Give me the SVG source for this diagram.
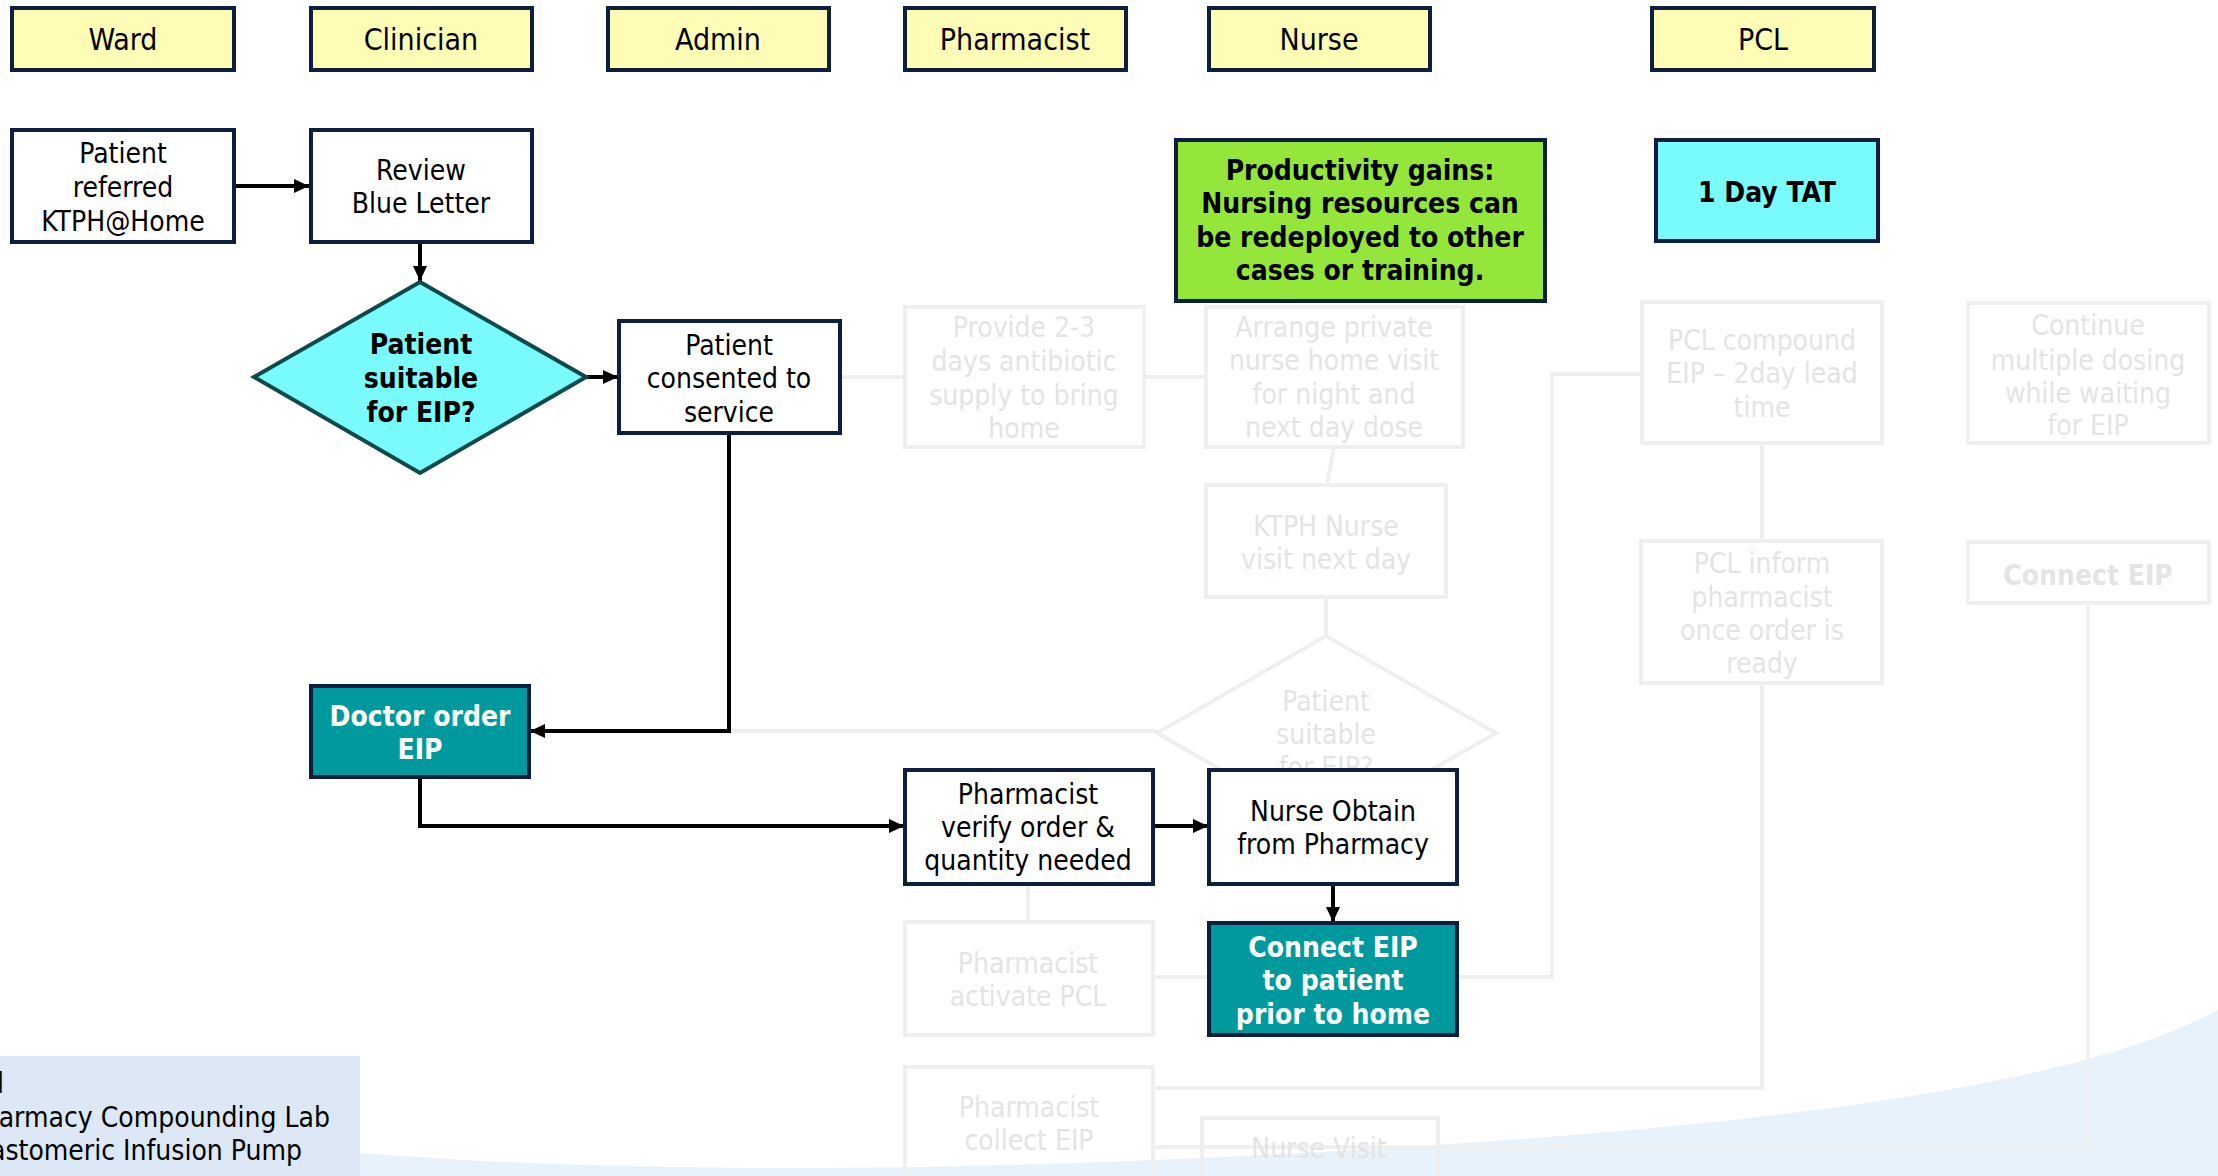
<svg xmlns="http://www.w3.org/2000/svg" width="2218" height="1176" viewBox="0 0 2218 1176">
  <defs>
    <style>
      text { font-family: "DejaVu Sans Condensed", "DejaVu Sans", "Liberation Sans", sans-serif; font-size: 28px; text-anchor: middle; fill: #000; }
      .hd { font-size: 30px; }
      .b { font-weight: bold; }
      .wt { fill: #ffffff; }
      .gt { fill: #e4e4e4; }
      .lg { text-anchor: end; }
      .lane { fill: #fffdb5; stroke: #0e1f3d; stroke-width: 4; }
      .box { fill: #ffffff; stroke: #0e1f3d; stroke-width: 4; }
      .teal { fill: #009a9e; stroke: #0e1f3d; stroke-width: 4; }
      .cyan { fill: #79fafc; stroke: #0e1f3d; stroke-width: 4; }
      .green { fill: #94e63a; stroke: #0e1f3d; stroke-width: 4; }
      .dia { fill: #79fafc; stroke: #0f4a4a; stroke-width: 4; }
      .ghost { fill: none; stroke: #efefef; stroke-width: 4; }
      .ln { fill: none; stroke: #000; stroke-width: 4; }
      .gln { fill: none; stroke: #efefef; stroke-width: 4; }
    </style>
    <marker id="arrow" viewBox="0 0 15 14" refX="15" refY="7" markerUnits="userSpaceOnUse" markerWidth="15" markerHeight="14" orient="auto">
      <path d="M0,0 L15,7 L0,14 Z" fill="#000"/>
    </marker>
  </defs>

  <rect width="2218" height="1176" fill="#ffffff"/>

  <!-- background sweep and legend panel -->
  <path d="M360,1153 C600,1172 900,1172 1200,1158 C1700,1135 2060,1095 2218,1010 L2218,1176 L360,1176 Z" fill="#e8f2fa"/>
  <g id="legend">
    <rect x="0" y="1056" width="360" height="120" fill="#dce8f5"/>
    <text class="lg" x="4" y="1093">l</text>
    <text class="lg" x="330" y="1127">harmacy Compounding Lab</text>
    <text class="lg" x="302" y="1160">astomeric Infusion Pump</text>
  </g>

  <!-- swimlane headers -->
  <g id="lanes">
    <g id="lane-ward"><rect class="lane" x="12" y="8" width="222" height="62"/><text class="hd" x="123" y="50">Ward</text></g>
    <g id="lane-clinician"><rect class="lane" x="311" y="8" width="221" height="62"/><text class="hd" x="421" y="50">Clinician</text></g>
    <g id="lane-admin"><rect class="lane" x="608" y="8" width="221" height="62"/><text class="hd" x="718" y="50">Admin</text></g>
    <g id="lane-pharmacist"><rect class="lane" x="905" y="8" width="221" height="62"/><text class="hd" x="1015" y="50">Pharmacist</text></g>
    <g id="lane-nurse"><rect class="lane" x="1209" y="8" width="221" height="62"/><text class="hd" x="1319" y="50">Nurse</text></g>
    <g id="lane-pcl"><rect class="lane" x="1652" y="8" width="222" height="62"/><text class="hd" x="1763" y="50">PCL</text></g>
  </g>

  <!-- faded alternative pathway: connectors -->
  <g id="ghost-connectors">
    <path class="gln" d="M840,377 H904"/>
    <path class="gln" d="M1144,377 H1205"/>
    <path class="gln" d="M1334,447 L1327,485"/>
    <path class="gln" d="M1326,597 V636"/>
    <path class="gln" d="M730,731 H1157"/>
    <path class="gln" d="M1028,884 V922"/>
    <path class="gln" d="M1153,977 H1208"/>
    <path class="gln" d="M1457,977 H1552 V374 H1642"/>
    <path class="gln" d="M1762,443 V541"/>
    <path class="gln" d="M1762,683 V1088 H1153"/>
    <path class="gln" d="M2088,603 V1147 H1153"/>
  </g>

  <!-- faded alternative pathway: nodes -->
  <g id="ghost-provide">
    <rect class="ghost" x="905" y="307" width="239" height="140"/>
    <text class="gt" x="1024" y="337">Provide 2-3</text>
    <text class="gt" x="1024" y="371">days antibiotic</text>
    <text class="gt" x="1024" y="405">supply to bring</text>
    <text class="gt" x="1024" y="438">home</text>
  </g>
  <g id="ghost-arrange">
    <rect class="ghost" x="1206" y="307" width="257" height="140"/>
    <text class="gt" x="1334" y="337">Arrange private</text>
    <text class="gt" x="1334" y="370">nurse home visit</text>
    <text class="gt" x="1334" y="404">for night and</text>
    <text class="gt" x="1334" y="437">next day dose</text>
  </g>
  <g id="ghost-ktph-visit">
    <rect class="ghost" x="1206" y="485" width="240" height="112"/>
    <text class="gt" x="1326" y="536">KTPH Nurse</text>
    <text class="gt" x="1326" y="569">visit next day</text>
  </g>
  <g id="ghost-decision">
    <path class="ghost" d="M1326,636 L1496,733 L1326,830 L1157,733 Z"/>
    <text class="gt" x="1326" y="711">Patient</text>
    <text class="gt" x="1326" y="744">suitable</text>
    <text class="gt" x="1326" y="777">for EIP?</text>
  </g>
  <g id="ghost-pcl-compound">
    <rect class="ghost" x="1642" y="302" width="240" height="141"/>
    <text class="gt" x="1762" y="350">PCL compound</text>
    <text class="gt" x="1762" y="383">EIP – 2day lead</text>
    <text class="gt" x="1762" y="417">time</text>
  </g>
  <g id="ghost-pcl-inform">
    <rect class="ghost" x="1641" y="541" width="241" height="142"/>
    <text class="gt" x="1762" y="573">PCL inform</text>
    <text class="gt" x="1762" y="607">pharmacist</text>
    <text class="gt" x="1762" y="640">once order is</text>
    <text class="gt" x="1762" y="673">ready</text>
  </g>
  <g id="ghost-continue">
    <rect class="ghost" x="1968" y="303" width="241" height="140"/>
    <text class="gt" x="2088" y="335">Continue</text>
    <text class="gt" x="2088" y="370">multiple dosing</text>
    <text class="gt" x="2088" y="403">while waiting</text>
    <text class="gt" x="2088" y="435">for EIP</text>
  </g>
  <g id="ghost-connect">
    <rect class="ghost" x="1968" y="542" width="241" height="61"/>
    <text class="gt b" x="2088" y="585">Connect EIP</text>
  </g>
  <g id="ghost-activate">
    <rect class="ghost" x="905" y="922" width="248" height="113"/>
    <text class="gt" x="1028" y="973">Pharmacist</text>
    <text class="gt" x="1028" y="1006">activate PCL</text>
  </g>
  <g id="ghost-collect">
    <rect class="ghost" x="905" y="1067" width="248" height="120"/>
    <text class="gt" x="1029" y="1117">Pharmacist</text>
    <text class="gt" x="1029" y="1150">collect EIP</text>
  </g>
  <g id="ghost-nurse-visit">
    <rect class="ghost" x="1202" y="1118" width="236" height="70"/>
    <text class="gt" x="1319" y="1158">Nurse Visit</text>
  </g>

  <!-- active pathway: connectors -->
  <g id="connectors">
    <path class="ln" d="M235,186 H309" marker-end="url(#arrow)"/>
    <path class="ln" d="M420,242 V281" marker-end="url(#arrow)"/>
    <path class="ln" d="M586,377 H618" marker-end="url(#arrow)"/>
    <path class="ln" d="M729,433 V731 H530" marker-end="url(#arrow)"/>
    <path class="ln" d="M420,777 V826 H904" marker-end="url(#arrow)"/>
    <path class="ln" d="M1153,826 H1208" marker-end="url(#arrow)"/>
    <path class="ln" d="M1333,884 V922" marker-end="url(#arrow)"/>
  </g>

  <!-- active pathway: nodes -->
  <g id="patient-referred">
    <rect class="box" x="12" y="130" width="222" height="112"/>
    <text x="123" y="163">Patient</text>
    <text x="123" y="197">referred</text>
    <text x="123" y="231">KTPH@Home</text>
  </g>
  <g id="review-letter">
    <rect class="box" x="311" y="130" width="221" height="112"/>
    <text x="421" y="180">Review</text>
    <text x="421" y="213">Blue Letter</text>
  </g>
  <g id="suitable-decision">
    <path class="dia" d="M420,282 L586,377 L420,473 L254,377 Z"/>
    <text class="b" x="421" y="354">Patient</text>
    <text class="b" x="421" y="388">suitable</text>
    <text class="b" x="421" y="422">for EIP?</text>
  </g>
  <g id="patient-consented">
    <rect class="box" x="619" y="321" width="221" height="112"/>
    <text x="729" y="355">Patient</text>
    <text x="729" y="388">consented to</text>
    <text x="729" y="422">service</text>
  </g>
  <g id="doctor-order">
    <rect class="teal" x="311" y="686" width="218" height="91"/>
    <text class="b wt" x="420" y="726">Doctor order</text>
    <text class="b wt" x="420" y="759">EIP</text>
  </g>
  <g id="pharmacist-verify">
    <rect class="box" x="905" y="770" width="248" height="114"/>
    <text x="1028" y="804">Pharmacist</text>
    <text x="1028" y="837">verify order &amp;</text>
    <text x="1028" y="870">quantity needed</text>
  </g>
  <g id="nurse-obtain">
    <rect class="box" x="1209" y="770" width="248" height="114"/>
    <text x="1333" y="821">Nurse Obtain</text>
    <text x="1333" y="854">from Pharmacy</text>
  </g>
  <g id="connect-eip">
    <rect class="teal" x="1209" y="923" width="248" height="112"/>
    <text class="b wt" x="1333" y="957">Connect EIP</text>
    <text class="b wt" x="1333" y="990">to patient</text>
    <text class="b wt" x="1333" y="1024">prior to home</text>
  </g>
  <g id="productivity-note">
    <rect class="green" x="1176" y="140" width="369" height="161"/>
    <text class="b" x="1360" y="180">Productivity gains:</text>
    <text class="b" x="1360" y="213">Nursing resources can</text>
    <text class="b" x="1360" y="247">be redeployed to other</text>
    <text class="b" x="1360" y="280">cases or training.</text>
  </g>
  <g id="tat-note">
    <rect class="cyan" x="1656" y="140" width="222" height="101"/>
    <text class="b" x="1767" y="202">1 Day TAT</text>
  </g>
</svg>
